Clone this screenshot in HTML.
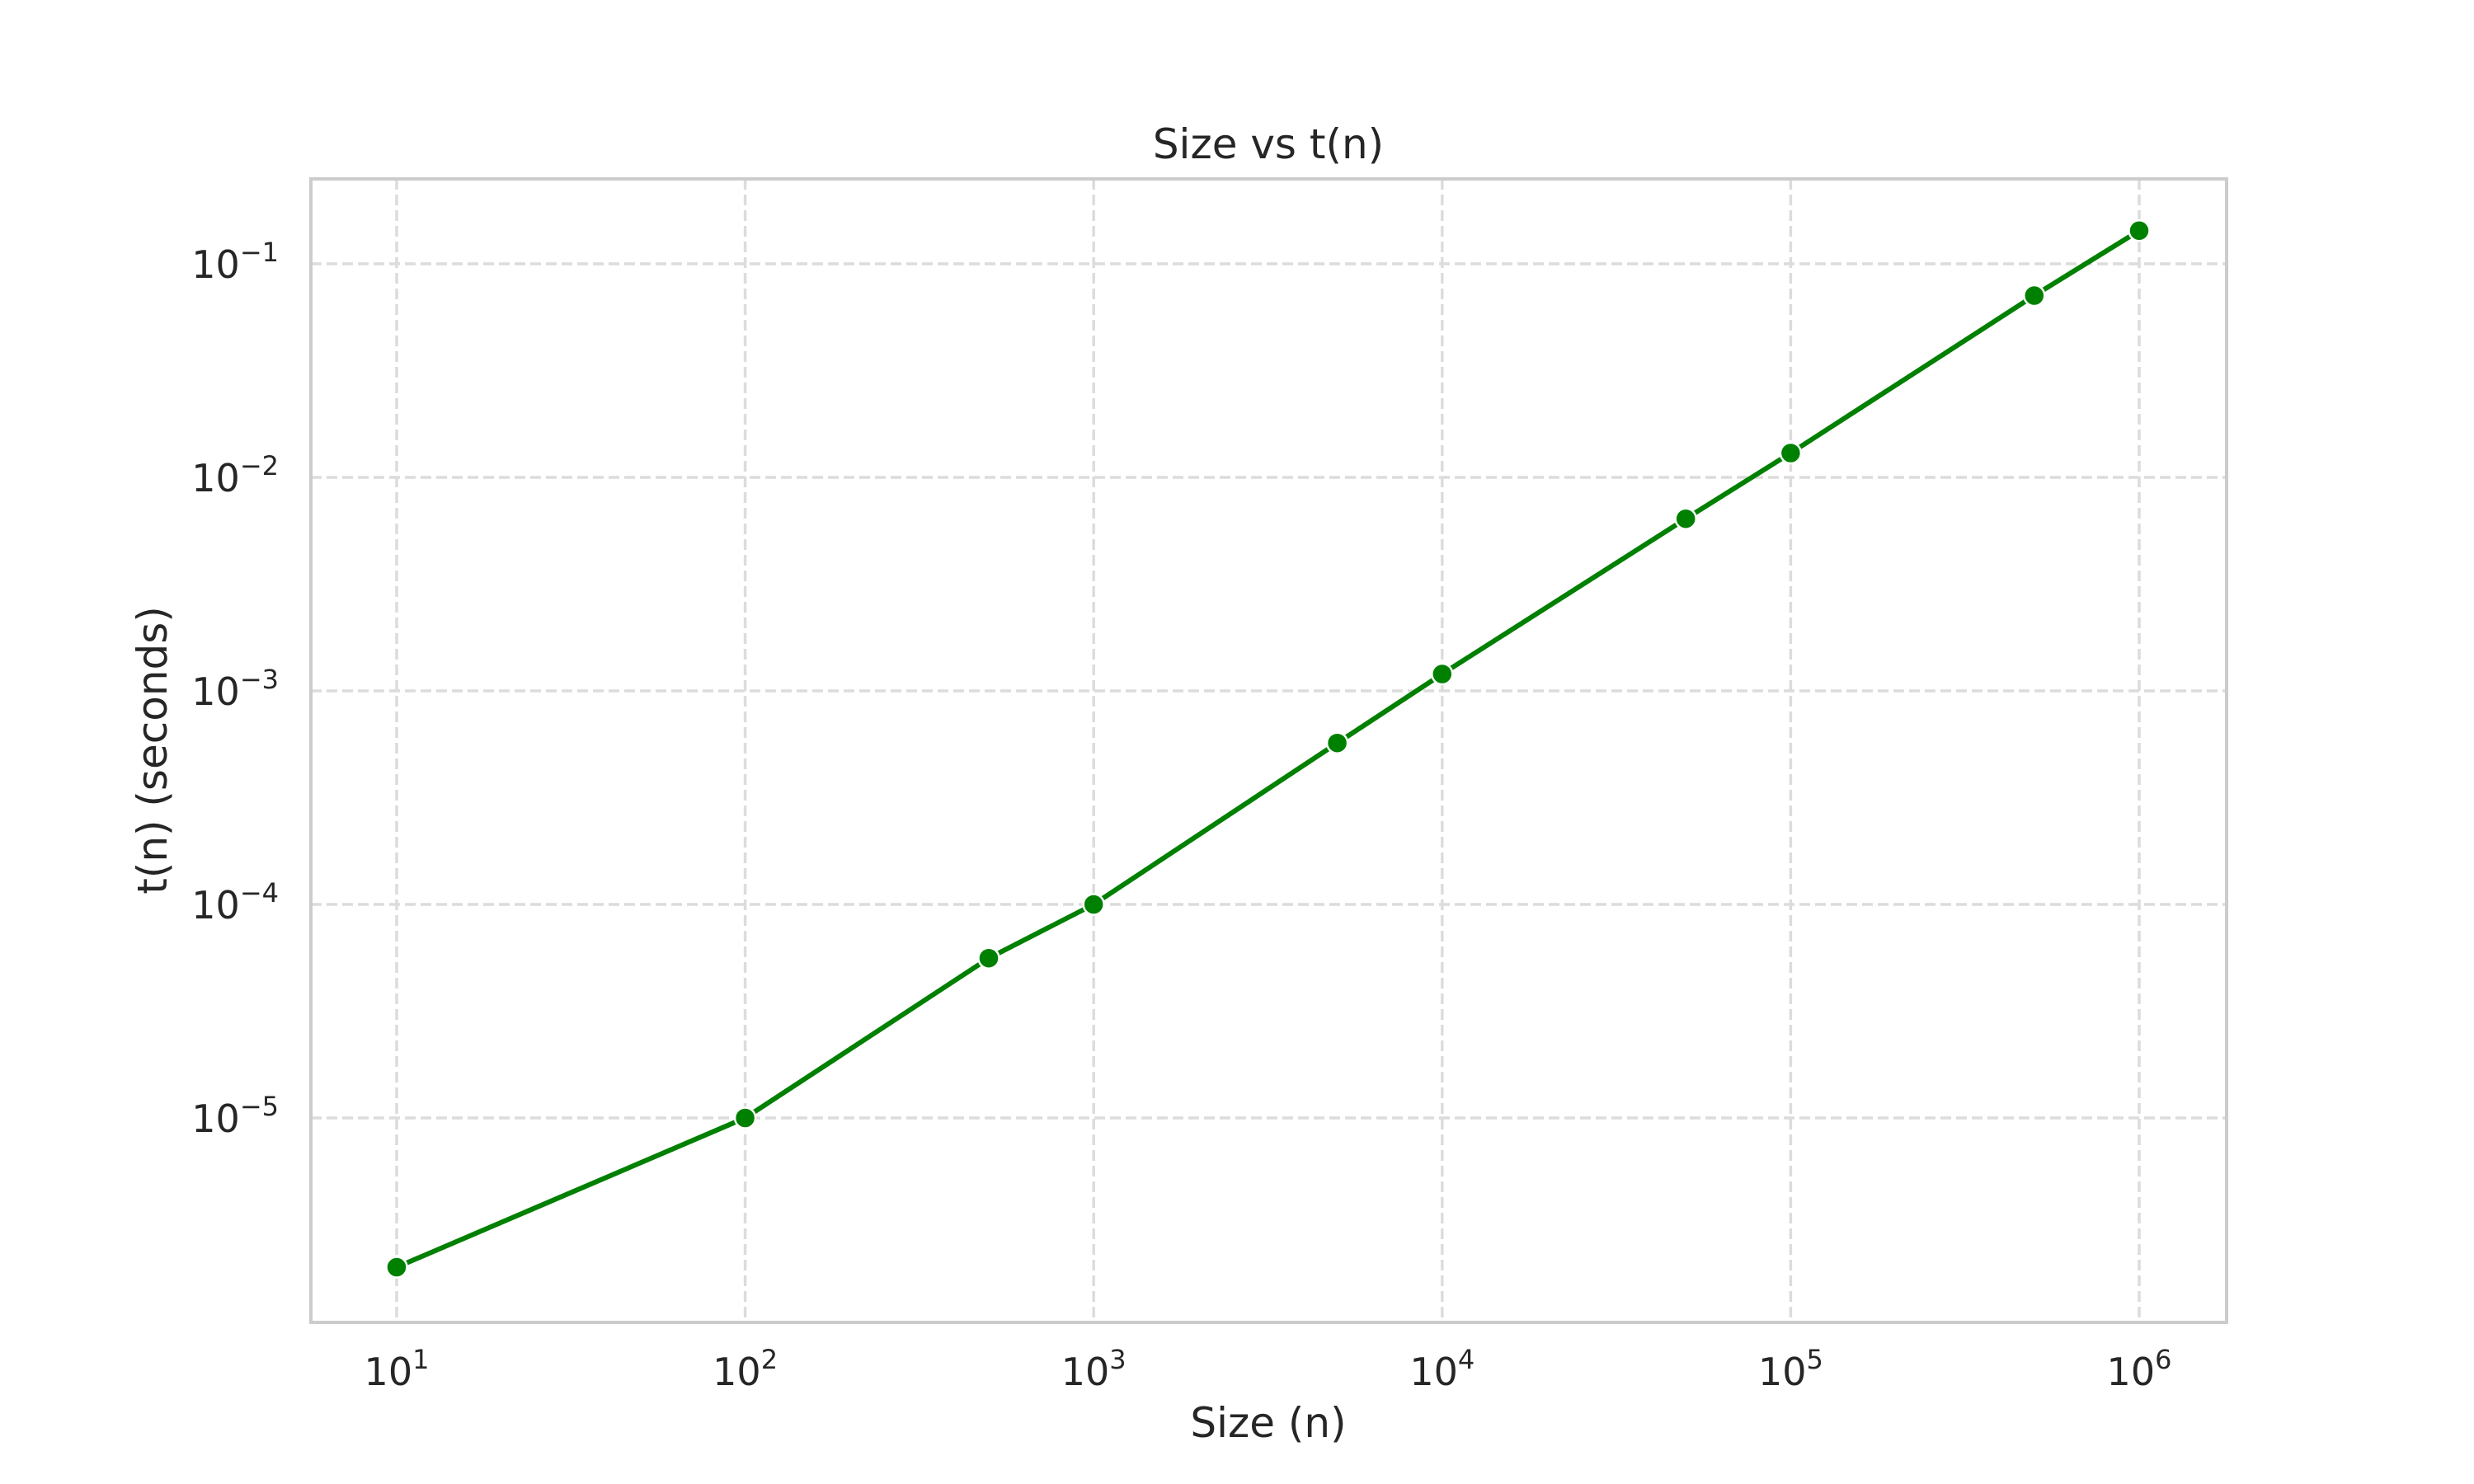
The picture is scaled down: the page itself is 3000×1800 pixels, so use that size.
<!DOCTYPE html>
<html><head><meta charset="utf-8"><style>
html,body{margin:0;padding:0;background:#fff;}
svg{display:block;font-family:"DejaVu Sans","Liberation Sans",sans-serif;}
</style></head><body>
<svg id="chart" width="3000" height="1800" viewBox="0 0 3000 1800" xmlns="http://www.w3.org/2000/svg">
<rect width="3000" height="1800" fill="#fff"/>
<g id="grid"></g>
<g id="series"></g>
<rect x="377" y="217" width="2323" height="1387" fill="none" stroke="#cccccc" stroke-width="4"/>
<g id="ticks"></g>
<text x="1538" y="192" text-anchor="middle" font-size="50" fill="#262626">Size vs t(n)</text>
<text x="1538" y="1743" text-anchor="middle" font-size="50" fill="#262626">Size (n)</text>
<text transform="translate(202,910) rotate(-90)" text-anchor="middle" font-size="50" fill="#262626">t(n) (seconds)</text>
</svg>
<script>
const sizes = [10, 100, 500, 1000, 5000, 10000, 50000, 100000, 500000, 1000000];
const times = [2.0e-6, 1.0e-5, 5.6e-5, 1.0e-4, 5.7e-4, 1.2e-3, 6.4e-3, 1.3e-2, 0.071, 0.143];
const xTickExps = [1, 2, 3, 4, 5, 6];
const yTickExps = [-5, -4, -3, -2, -1];

const NS = "http://www.w3.org/2000/svg";
function xs(v){ return 481 + (Math.log10(v) - 1) * 422.6; }
function ys(v){ return 320 + (-1 - Math.log10(v)) * 259; }
function mk(tag, attrs, parent){
  const e = document.createElementNS(NS, tag);
  for (const k in attrs) e.setAttribute(k, attrs[k]);
  parent.appendChild(e);
  return e;
}
const grid = document.getElementById('grid');
const ticks = document.getElementById('ticks');
const series = document.getElementById('series');

xTickExps.forEach(p => {
  const x = xs(Math.pow(10, p));
  const l = mk('line', {x1:x, x2:x, y1:217, y2:1604, stroke:'#dcdcdc', 'stroke-width':3.5, 'stroke-dasharray':'13,6'}, grid);
  
  
  const t = mk('text', {x:x, y:1680, 'text-anchor':'middle', 'font-size':46, fill:'#262626'}, ticks);
  
  
  t.innerHTML = '10<tspan dy="-20" font-size="32">' + p + '</tspan>';
});
yTickExps.forEach(p => {
  const y = ys(Math.pow(10, p));
  const l = mk('line', {x1:377, x2:2700, y1:y, y2:y, stroke:'#dcdcdc', 'stroke-width':3.5, 'stroke-dasharray':'13,6'}, grid);
  
  
  const t = mk('text', {x:338, y:y + 17, 'text-anchor':'end', 'font-size':46, fill:'#262626'}, ticks);
  
  
  t.innerHTML = '10<tspan dy="-20" font-size="32">\u2212' + (-p) + '</tspan>';
});

const pts = sizes.map((s, i) => xs(s) + ',' + ys(times[i])).join(' ');
const pl = mk('polyline', {points:pts, fill:'none', stroke:'#008000', 'stroke-width':6, 'stroke-linejoin':'round'}, series);


sizes.forEach((s, i) => {
  const c = mk('circle', {cx:xs(s), cy:ys(times[i]), r:12.5, fill:'#008000', stroke:'#fff', 'stroke-width':2.5}, series);
  
  
});
</script>
</body></html>
